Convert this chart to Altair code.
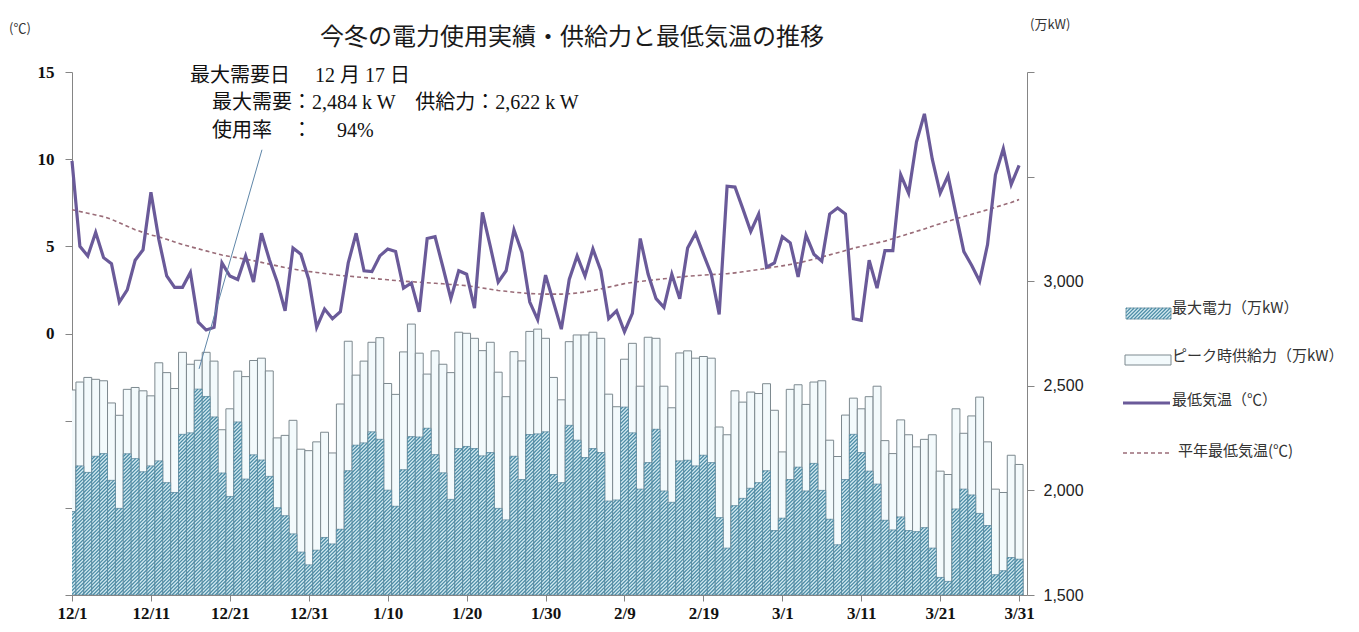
import json
import math
import pandas as pd
import altair as alt

# ---------------- data ----------------
days = pd.date_range("2012-12-01", "2013-03-31", freq="D")
day_labels = [f"{d.month}/{d.day}" for d in days]

x_tick_labels = ["12/1", "12/11", "12/21", "12/31", "1/10", "1/20", "1/30",
                 "2/9", "2/19", "3/1", "3/11", "3/21", "3/31"]

# peak-time supply (万kW)
supply = [2480, 2518, 2540, 2531, 2524, 2418, 2359, 2483, 2492, 2476,
          2452, 2610, 2563, 2487, 2660, 2603, 2622, 2660, 2618, 2290,
          2390, 2570, 2544, 2621, 2632, 2571, 2251, 2263, 2335, 2197,
          2190, 2232, 2278, 2179, 2413, 2713, 2551, 2618, 2708, 2730,
          2511, 2459, 2662, 2795, 2656, 2556, 2667, 2603, 2563, 2756,
          2751, 2727, 2668, 2708, 2565, 2448, 2663, 2619, 2760, 2771,
          2727, 2540, 2433, 2711, 2743, 2743, 2756, 2727, 2460, 2400,
          2627, 2703, 2498, 2732, 2727, 2498, 2395, 2657, 2667, 2632,
          2640, 2632, 2303, 2266, 2476, 2422, 2470, 2463, 2510, 2383,
          2184, 2483, 2505, 2411, 2518, 2524, 2240, 2162, 2360, 2441,
          2390, 2448, 2498, 2238, 2176, 2337, 2266, 2208, 2244, 2266,
          2092, 2076, 2390, 2273, 2356, 2446, 2232, 2006, 1990, 2168,
          2124]

# maximum demand (万kW)
demand = [1899, 2117, 2086, 2163, 2176, 2048, 1914, 2175, 2152, 2089,
          2117, 2141, 2037, 1990, 2268, 2275, 2484, 2449, 2351, 2083,
          1971, 2327, 2054, 2170, 2145, 2067, 1917, 1879, 1792, 1705,
          1644, 1714, 1775, 1744, 1814, 2094, 2216, 2227, 2280, 2244,
          2001, 1924, 2099, 2257, 2255, 2297, 2171, 2084, 1957, 2200,
          2210, 2200, 2165, 2181, 1914, 1859, 2163, 2052, 2267, 2270,
          2280, 2076, 2037, 2311, 2240, 2157, 2200, 2181, 1949, 1954,
          2398, 2275, 2006, 2133, 2292, 1997, 1943, 2141, 2144, 2117,
          2168, 2133, 1870, 1724, 1927, 1962, 2010, 2037, 2094, 1808,
          1867, 2052, 2111, 1997, 2129, 2000, 1862, 1740, 2052, 2268,
          2181, 2092, 2030, 1857, 1811, 1873, 1808, 1803, 1822, 1724,
          1584, 1565, 1911, 2006, 1978, 1890, 1832, 1597, 1616, 1679,
          1671]

# daily minimum temperature (℃)
min_temp = [9.9, 5.0, 4.45, 5.8, 4.35, 4.0, 1.8, 2.5, 4.2, 4.8,
            8.1, 5.4, 3.3, 2.65, 2.65, 3.5, 0.65, 0.2, 0.35, 4.05,
            3.3, 3.1, 4.45, 2.95, 5.75, 4.25, 2.95, 1.3, 4.9, 4.55,
            3.1, 0.35, 1.4, 0.85, 1.25, 4.05, 5.75, 3.6, 3.55, 4.45,
            4.85, 4.7, 2.6, 2.9, 1.25, 5.45, 5.55, 3.8, 2.0, 3.6,
            3.4, 1.45, 6.95, 5.0, 2.95, 3.6, 5.95, 4.65, 1.8, 0.8,
            3.35, 1.8, 0.25, 3.1, 4.45, 3.3, 4.85, 3.6, 0.85, 1.3,
            0.1, 1.15, 5.45, 3.4, 2.0, 1.5, 3.4, 2.0, 4.9, 5.75,
            4.55, 3.4, 1.1, 8.45, 8.4, 7.15, 5.85, 6.85, 3.8, 4.05,
            5.55, 5.2, 3.25, 5.65, 4.55, 4.15, 6.85, 7.2, 6.85, 0.85,
            0.75, 4.2, 2.6, 4.75, 4.75, 9.1, 8.05, 11.0, 12.6, 10.0,
            8.05, 9.05, 6.85, 4.7, 3.9, 3.0, 5.1, 9.1, 10.6, 8.55,
            9.65]

# normal (average-year) minimum temperature (℃)
normal_temp = [7.10, 7.00, 6.90, 6.80, 6.70, 6.55, 6.35, 6.15, 5.95, 5.80,
               5.65, 5.55, 5.40, 5.25, 5.10, 4.98, 4.86, 4.74, 4.62, 4.50,
               4.42, 4.34, 4.26, 4.18, 4.08, 3.98, 3.88, 3.78, 3.70, 3.62,
               3.56, 3.50, 3.44, 3.38, 3.33, 3.29, 3.25, 3.21, 3.17, 3.12,
               3.08, 3.04, 3.00, 2.97, 2.94, 2.91, 2.88, 2.85, 2.81, 2.78,
               2.74, 2.68, 2.61, 2.54, 2.47, 2.42, 2.37, 2.33, 2.29, 2.27,
               2.26, 2.26, 2.26, 2.28, 2.32, 2.38, 2.46, 2.56, 2.66, 2.76,
               2.86, 2.93, 2.99, 3.04, 3.09, 3.14, 3.19, 3.24, 3.28, 3.32,
               3.35, 3.38, 3.40, 3.43, 3.48, 3.54, 3.60, 3.67, 3.74, 3.81,
               3.88, 3.96, 4.05, 4.15, 4.27, 4.39, 4.51, 4.63, 4.76, 4.89,
               5.00, 5.10, 5.20, 5.30, 5.44, 5.58, 5.72, 5.86, 6.00, 6.15,
               6.30, 6.44, 6.58, 6.71, 6.84, 6.97, 7.10, 7.24, 7.38, 7.52,
               7.68]

# annotation pointer (day index, ℃)
pointer_x = [24.07, 16.1]
pointer_y = [10.54, -2.03]

title_text = "今冬の電力使用実績・供給力と最低気温の推移"
note_lines = ["最大需要日　 12 月 17 日",
              "最大需要：2,484 k W　供給力：2,622 k W",
              "使用率　：　 94%"]
legend_labels = ["最大電力（万kW）", "ピーク時供給力（万kW）", "最低気温（℃）", "平年最低気温(℃)"]

# ---------------- layout / style constants ----------------
W, H = 955, 523
X_MIN, X_MAX = 0, 121
P_MIN, P_MAX = 1500, 4000
AX = "#858585"
SERIF = "Liberation Serif, Noto Sans CJK JP"
JP = "Noto Sans CJK JP"
HATCH_BG = "#d3eaf1"
HATCH_FG = "#4b8ba5"
BAR_EDGE = "#62889a"
SUPPLY_FILL = "#f3fafc"
SUPPLY_EDGE = "#7d898f"
HATCH_GAP_PX = 3.6

# ---------------- frames ----------------
n = len(supply)
df = pd.DataFrame({
    "idx": list(range(n)),
    "date": day_labels,
    "supply": supply,
    "demand": demand,
    "tmin": min_temp,
    "tnorm": normal_temp,
})
df["x0"] = df["idx"] - 0.5
df["x1"] = df["idx"] + 0.5
df["base"] = P_MIN

# diagonal hatch strokes inside each demand bar (45 degrees on screen)
px_per_day = W / (X_MAX - X_MIN)
px_per_unit = H / (P_MAX - P_MIN)
rise = px_per_day / px_per_unit          # power units per day for a 45° stroke
step = HATCH_GAP_PX / px_per_unit        # vertical spacing in power units
rows = []
for i, t in enumerate(demand):
    xl, xr = i - 0.5, i + 0.5
    k0 = math.ceil((rise * (i + 0.5) - (t - P_MIN)) / step)
    k1 = math.floor(rise * (i + 1.5) / step)
    for k in range(k0, k1 + 1):
        ya = P_MIN + rise * (i + 0.5) - k * step
        yb = ya + rise
        xa, xb = xl, xr
        if ya < P_MIN:
            xa = xl + (P_MIN - ya) / rise
            ya = P_MIN
        if yb > t:
            xb = xr - (yb - t) / rise
            yb = t
        if xb > xa:
            rows.append({"hx": xa, "hx2": xb, "hy": ya, "hy2": yb})
hatch = pd.DataFrame(rows)

ptr = pd.DataFrame({"x": [pointer_x[0]], "x2": [pointer_x[1]],
                    "y": [pointer_y[0]], "y2": [pointer_y[1]]})

xs = alt.Scale(domain=[X_MIN, X_MAX], nice=False, zero=False)
x_axis = alt.Axis(values=list(range(0, 121, 10)),
                  labelExpr=json.dumps(x_tick_labels) + "[round(datum.value/10)]",
                  title=None, grid=False, domainColor=AX, tickColor=AX,
                  tickSize=6, labelPadding=4, labelFont="Liberation Serif",
                  labelFontWeight="bold", labelFontSize=17, labelColor="#111",
                  labelFlush=False)

ps = alt.Scale(domain=[P_MIN, P_MAX], nice=False, zero=False)
p_axis = alt.Axis(orient="right", values=[1500, 2000, 2500, 3000, 3500, 4000],
                  format=",.0f", labelExpr="datum.value <= 3000 ? datum.label : ''",
                  title=None, grid=False, domainColor=AX, tickColor=AX,
                  tickSize=7, labelPadding=9, labelFont="Liberation Sans",
                  labelFontSize=16, labelColor="#222")

ts = alt.Scale(domain=[-15, 15], nice=False, zero=False)
t_axis = alt.Axis(orient="left", values=[-15, -10, -5, 0, 5, 10, 15],
                  labelExpr="datum.value >= 0 ? datum.label : ''",
                  title=None, grid=False, domainColor=AX, tickColor=AX,
                  tickSize=7, labelPadding=11, labelFont="Liberation Serif",
                  labelFontWeight="bold", labelFontSize=17, labelColor="#111")

supply_bars = alt.Chart(df).mark_rect(
    fill=SUPPLY_FILL, stroke=SUPPLY_EDGE, strokeWidth=1, clip=True
).encode(
    x=alt.X("x0:Q", scale=xs, axis=x_axis), x2="x1",
    y=alt.Y("supply:Q", scale=ps, axis=p_axis), y2="base",
)
demand_bars = alt.Chart(df).mark_rect(
    fill=HATCH_BG, stroke=BAR_EDGE, strokeWidth=0.8, clip=True
).encode(
    x=alt.X("x0:Q", scale=xs, axis=x_axis), x2="x1",
    y=alt.Y("demand:Q", scale=ps, axis=p_axis), y2="base",
)
demand_hatch = alt.Chart(hatch).mark_rule(
    color=HATCH_FG, strokeWidth=1.25, clip=True
).encode(
    x=alt.X("hx:Q", scale=xs, axis=x_axis), x2="hx2",
    y=alt.Y("hy:Q", scale=ps, axis=p_axis), y2="hy2",
)
bars = alt.layer(supply_bars, demand_bars, demand_hatch)

normal_line = alt.Chart(df).mark_line(
    color="#9a6c78", strokeWidth=1.6, strokeDash=[4, 3]
).encode(
    x=alt.X("idx:Q", scale=xs, axis=x_axis),
    y=alt.Y("tnorm:Q", scale=ts, axis=t_axis),
)
temp_line = alt.Chart(df).mark_line(
    color="#6a5a99", strokeWidth=3.2
).encode(
    x=alt.X("idx:Q", scale=xs, axis=x_axis),
    y=alt.Y("tmin:Q", scale=ts, axis=t_axis),
)
pointer = alt.Chart(ptr).mark_rule(color="#5f86a8", strokeWidth=1).encode(
    x=alt.X("x:Q", scale=xs, axis=x_axis), x2="x2",
    y=alt.Y("y:Q", scale=ts, axis=t_axis), y2="y2",
)
temps = alt.layer(normal_line, temp_line, pointer)

one = alt.Data(values=[{}])


def label(text, x, y, size, font=JP, align="left", color="#222", weight="normal",
          baseline="middle"):
    return alt.Chart(one).mark_text(
        text=text, font=font, fontSize=size, align=align, baseline=baseline,
        color=color, fontWeight=weight
    ).encode(x=alt.value(x), y=alt.value(y))


texts = [
    label(title_text, 500, -34, 24, align="center", color="#1a1a1a"),
    label("(℃)", -63, -43, 13, color="#333"),
    label("(万kW)", 958, -47, 13, color="#333"),
    label(note_lines[0], 118, 4, 20, font=SERIF, color="#111"),
    label(note_lines[1], 140, 31, 20, font=SERIF, color="#111"),
    label(note_lines[2], 140, 59, 20, font=SERIF, color="#111"),
]

# legend
sw_x0, sw_x1, sw_y0, sw_y1 = 1054, 1099, 236, 247
leg = [
    alt.Chart(one).mark_rect(fill=HATCH_BG, stroke=BAR_EDGE, strokeWidth=0.8).encode(
        x=alt.value(sw_x0), x2=alt.value(sw_x1), y=alt.value(sw_y0), y2=alt.value(sw_y1)),
]
hgt = sw_y1 - sw_y0
d = -hgt + 1.0
while d < (sw_x1 - sw_x0):
    xa, ya = sw_x0 + d, sw_y1
    xb, yb = xa + hgt, sw_y0
    if xa < sw_x0:
        ya = sw_y1 - (sw_x0 - xa)
        xa = sw_x0
    if xb > sw_x1:
        yb = sw_y0 + (xb - sw_x1)
        xb = sw_x1
    leg.append(alt.Chart(one).mark_rule(color=HATCH_FG, strokeWidth=1.1).encode(
        x=alt.value(xa), x2=alt.value(xb), y=alt.value(ya), y2=alt.value(yb)))
    d += HATCH_GAP_PX
leg += [
    label(legend_labels[0], 1100, 236, 15, color="#333"),
    alt.Chart(one).mark_rect(fill=SUPPLY_FILL, stroke=SUPPLY_EDGE, strokeWidth=1).encode(
        x=alt.value(1053), x2=alt.value(1099), y=alt.value(283), y2=alt.value(293)),
    label(legend_labels[1], 1100, 284, 15, color="#333"),
    alt.Chart(one).mark_rule(color="#6a5a99", strokeWidth=3.2).encode(
        x=alt.value(1051), x2=alt.value(1098), y=alt.value(331)),
    label(legend_labels[2], 1100, 328, 15, color="#333"),
    alt.Chart(one).mark_rule(color="#9a6c78", strokeWidth=1.4, strokeDash=[4, 3]).encode(
        x=alt.value(1051), x2=alt.value(1098), y=alt.value(381)),
    label(legend_labels[3], 1106, 379, 15, color="#333"),
]

chart = alt.layer(bars, temps, *texts, *leg).resolve_scale(
    y="independent"
).properties(
    width=W, height=H,
    autosize=alt.AutoSizeParams(type="none"),
    padding={"left": 64, "top": 64, "right": 320, "bottom": 26},
    background="white",
).configure_view(stroke=None)

chart.save("out.html", embed_options={"renderer": "svg", "actions": False})
